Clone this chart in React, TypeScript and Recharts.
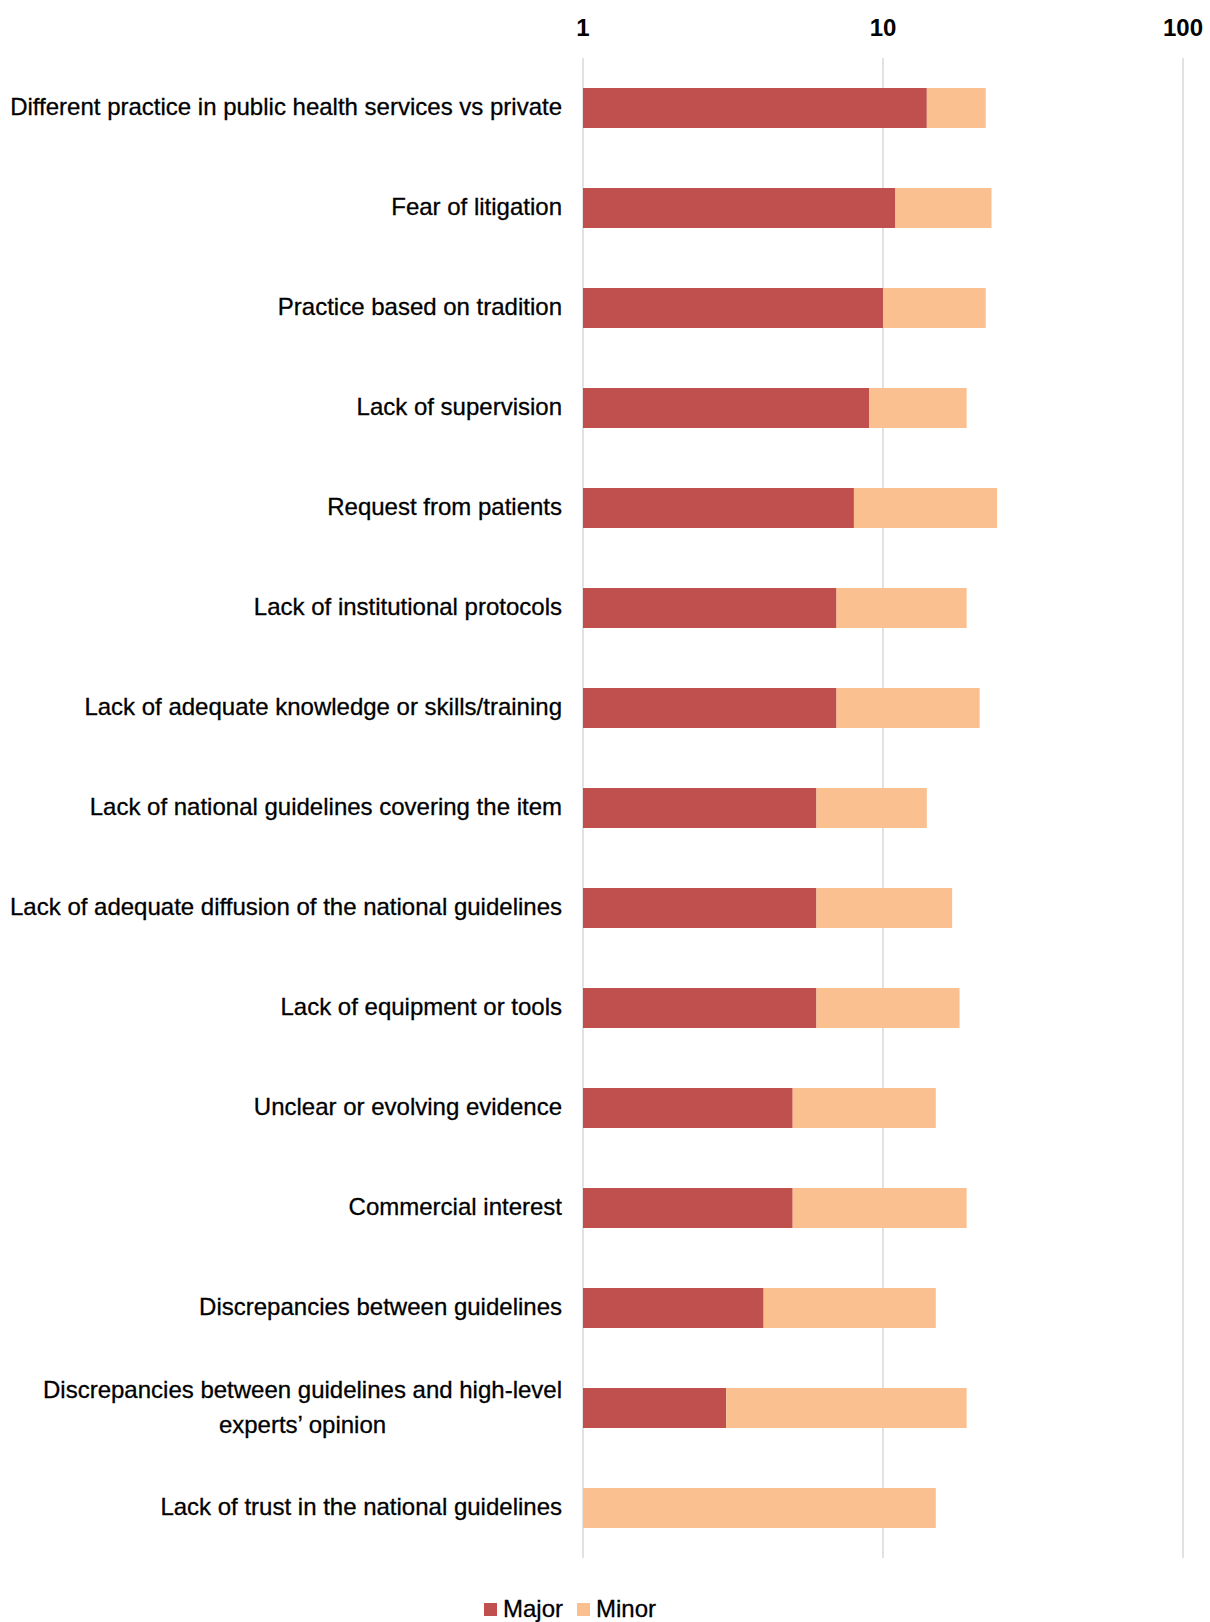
import React from 'react';
import { BarChart, Bar, XAxis, YAxis, CartesianGrid, Legend } from 'recharts';

const categories = [
  'Different practice in public health services vs private',
  'Fear of litigation',
  'Practice based on tradition',
  'Lack of supervision',
  'Request from patients',
  'Lack of institutional protocols',
  'Lack of adequate knowledge or skills/training',
  'Lack of national guidelines covering the item',
  'Lack of adequate diffusion of the national guidelines',
  'Lack of equipment or tools',
  'Unclear or evolving evidence',
  'Commercial interest',
  'Discrepancies between guidelines',
  'Discrepancies between guidelines and high-level experts\u2019 opinion',
  'Lack of trust in the national guidelines',
];
const majorValues = [14, 11, 10, 9, 8, 7, 7, 6, 6, 6, 5, 5, 4, 3, 0];
const minorValues = [8, 12, 12, 10, 16, 12, 14, 8, 11, 12, 10, 14, 11, 16, 15];
const xTicks = [1, 10, 100];
const seriesNames = ['Major', 'Minor'];
const seriesColors = ['#C0504D', '#FAC090'];

const data = categories.map((name, i) => ({
  name,
  Major: majorValues[i],
  Minor: minorValues[i],
}));

const FONT = '"Liberation Sans", Arial, Helvetica, sans-serif';
const LABEL_SIZE = 24;
const MAX_LABEL_WIDTH = 565;

let ctx: CanvasRenderingContext2D | null = null;
const measure = (s: string) => {
  if (!ctx) {
    const c = document.createElement('canvas');
    ctx = c.getContext('2d');
  }
  if (!ctx) return s.length * LABEL_SIZE * 0.5;
  ctx.font = `${LABEL_SIZE}px ${FONT}`;
  return ctx.measureText(s).width;
};

const wrap = (s: string) => {
  if (measure(s) <= MAX_LABEL_WIDTH) return [s];
  const words = s.split(' ');
  const lines: string[] = [];
  let cur = '';
  for (const w of words) {
    const t = cur ? cur + ' ' + w : w;
    if (measure(t) > MAX_LABEL_WIDTH && cur) {
      lines.push(cur);
      cur = w;
    } else {
      cur = t;
    }
  }
  if (cur) lines.push(cur);
  return lines;
};

const textStyle = {
  fontFamily: FONT,
  fontSize: LABEL_SIZE,
  fill: '#000',
  stroke: '#000',
  strokeWidth: 0.3,
};

const YTick = (props: any) => {
  const { x, y, payload } = props;
  const lines = wrap(String(payload.value));
  if (lines.length === 1) {
    return (
      <text x={x} y={y} dy="0.3em" textAnchor="end" {...textStyle}>
        {lines[0]}
      </text>
    );
  }
  const blockW = Math.max(...lines.map(measure));
  const cx = x - blockW / 2;
  const lh = 35;
  const start = y - ((lines.length - 1) * lh) / 2;
  return (
    <g>
      {lines.map((l, i) => (
        <text key={i} x={cx} y={start + i * lh} dy="0.3em" textAnchor="middle" {...textStyle}>
          {l}
        </text>
      ))}
    </g>
  );
};

const XTick = (props: any) => {
  const { x, y, payload } = props;
  return (
    <text x={x} y={y} textAnchor="middle" fontFamily={FONT} fontSize={24} fontWeight="bold" fill="#000">
      {payload.value}
    </text>
  );
};

const LegendContent = () => (
  <div
    style={{
      height: 64,
      boxSizing: 'border-box',
      paddingTop: 38,
      display: 'flex',
      justifyContent: 'center',
      alignItems: 'center',
      fontFamily: FONT,
      fontSize: 24,
      lineHeight: '26px',
      color: '#000',
      WebkitTextStroke: '0.3px #000',
    }}
  >
    {seriesNames.map((n, i) => (
      <div key={n} style={{ display: 'flex', alignItems: 'center', marginLeft: i === 0 ? 0 : 14 }}>
        <div style={{ width: 13, height: 13, background: seriesColors[i], marginRight: 6 }} />
        <span>{n}</span>
      </div>
    ))}
  </div>
);

export default function App() {
  return (
    <div style={{ position: 'absolute', left: 0, top: 0, background: '#fff' }}>
      <BarChart
        width={1210}
        height={1622}
        data={data}
        layout="vertical"
        margin={{ top: 0, right: 27, bottom: 0, left: 0 }}
        barSize={40}
      >
        <CartesianGrid horizontal={false} vertical stroke="#D9D9D9" strokeWidth={1.5} />
        <XAxis
          type="number"
          orientation="top"
          scale="log"
          domain={[1, 100]}
          ticks={xTicks}
          allowDataOverflow
          axisLine={false}
          tickLine={false}
          tickSize={6}
          tickMargin={16}
          height={58}
          tick={<XTick />}
          interval={0}
        />
        <YAxis
          type="category"
          dataKey="name"
          width={583}
          axisLine={false}
          tickLine={false}
          tickSize={6}
          tickMargin={15}
          tick={<YTick />}
          interval={0}
        />
        <Legend
          verticalAlign="bottom"
          content={<LegendContent />}
          wrapperStyle={{ left: 0, width: 1140, bottom: 0 }}
        />
        {seriesNames.map((n, i) => (
          <Bar key={n} dataKey={n} stackId="a" fill={seriesColors[i]} isAnimationActive={false} />
        ))}
      </BarChart>
    </div>
  );
}
